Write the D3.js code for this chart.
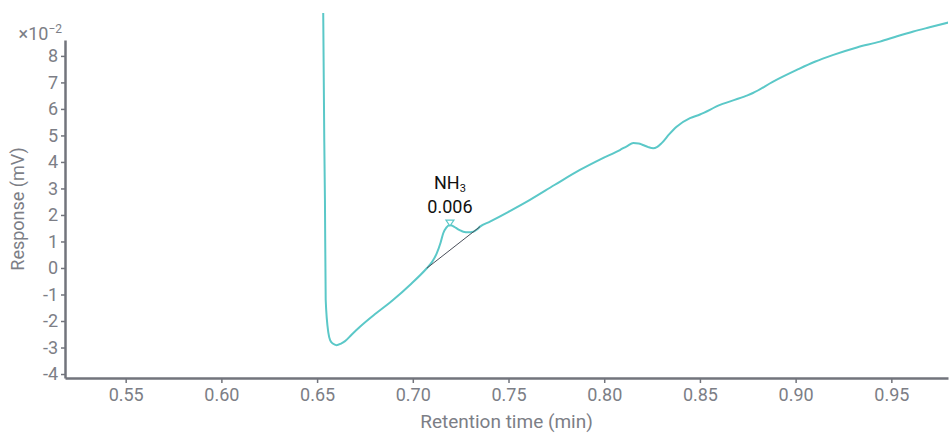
<!DOCTYPE html>
<html>
<head>
<meta charset="utf-8">
<script src="https://cdn.jsdelivr.net/npm/d3@7"></script>
<style>
  body { margin: 0; background: #fff; }
  svg text { font-family: Roboto, "Noto Sans", sans-serif; }
</style>
</head>
<body>
<div id="chart"></div>
<script>
// retention time (min) and response (x10^-2 mV)
const times = [0.6530, 0.6532, 0.6541, 0.6545, 0.6559, 0.6568, 0.6582, 0.6602, 0.6625, 0.6646,
  0.6680, 0.6724, 0.6810, 0.6898, 0.6985, 0.7073, 0.7100, 0.7125, 0.7145, 0.7159, 0.7175, 0.7194,
  0.7210, 0.7226, 0.7245, 0.7264, 0.7290, 0.7316, 0.7335, 0.7351, 0.7403, 0.7500, 0.7612,
  0.7740, 0.7873, 0.7980, 0.8082, 0.8120, 0.8152, 0.8180, 0.8202, 0.8230, 0.8256, 0.8275,
  0.8300, 0.8340, 0.8378, 0.8448, 0.8500, 0.8605, 0.8744, 0.8777, 0.8880, 0.9006, 0.9100,
  0.9197, 0.9320, 0.9441, 0.9530, 0.9615, 0.9700, 0.9798];
const response = [14.0, 9.62, 2.57, -1.21, -2.45, -2.72, -2.85, -2.91, -2.85, -2.76,
  -2.52, -2.22, -1.70, -1.20, -0.64, -0.01, 0.22, 0.55, 0.95, 1.31, 1.52, 1.62,
  1.58, 1.51, 1.43, 1.37, 1.35, 1.37, 1.45, 1.56, 1.75, 2.12, 2.57,
  3.13, 3.70, 4.10, 4.45, 4.60, 4.71, 4.70, 4.64, 4.56, 4.52, 4.56,
  4.71, 5.05, 5.33, 5.65, 5.79, 6.15, 6.50, 6.60, 7.02, 7.47, 7.78,
  8.04, 8.32, 8.54, 8.74, 8.92, 9.08, 9.26];

const xTicks = [0.55, 0.60, 0.65, 0.70, 0.75, 0.80, 0.85, 0.90, 0.95];
const yTicks = [-4, -3, -2, -1, 0, 1, 2, 3, 4, 5, 6, 7, 8];

// NH3 peak: apex, and the integration baseline ends
const peakName = "NH";
const peakSub = "3";
const peakArea = "0.006";
const peakApex = [0.7194, 1.62];
const baselineT = [0.7073, 0.7351];
const baselineV = [-0.01, 1.56];

const width = 950;
const height = 433;
const margin = { top: 40, right: 2, bottom: 55, left: 65 };

const axisColor = "#72747c";
const textColor = "#7c7e86";
const lineColor = "#5bc8c8";

const svg = d3.select("#chart")
  .append("svg")
  .attr("width", width)
  .attr("height", height);

const x = d3.scaleLinear()
  .domain([0.5183, 0.9796])
  .range([margin.left, width - margin.right]);

const y = d3.scaleLinear()
  .domain([-4.15, 8.6])
  .range([height - margin.bottom, margin.top]);

// trace is allowed to run above the axis top
svg.append("clipPath").attr("id", "clip")
  .append("rect")
  .attr("x", margin.left)
  .attr("y", 13)
  .attr("width", width - margin.left - margin.right)
  .attr("height", height - margin.bottom - 13);

const data = times.map((t, i) => ({ t, v: response[i] }));

const line = d3.line()
  .x((d) => x(d.t))
  .y((d) => y(d.v))
  .curve(d3.curveMonotoneX);

svg.append("path")
  .datum(data)
  .attr("clip-path", "url(#clip)")
  .attr("fill", "none")
  .attr("stroke", lineColor)
  .attr("stroke-width", 2)
  .attr("d", line);

// baseline under the peak
svg.append("line")
  .attr("x1", x(baselineT[0]))
  .attr("y1", y(baselineV[0]))
  .attr("x2", x(baselineT[1]))
  .attr("y2", y(baselineV[1]))
  .attr("stroke", "#4a4f5a")
  .attr("stroke-width", 1);

// apex marker
const px = x(peakApex[0]);
const py = y(peakApex[1]);
svg.append("path")
  .attr("d", `M${px - 4},${py - 5}L${px + 4},${py - 5}L${px},${py + 1}Z`)
  .attr("fill", "#fff")
  .attr("stroke", lineColor)
  .attr("stroke-width", 1.2);

const lab = svg.append("text")
  .attr("x", px)
  .attr("y", py - 36)
  .attr("text-anchor", "middle")
  .attr("fill", "#111")
  .attr("font-size", 18);
lab.append("tspan").text(peakName);
lab.append("tspan").attr("font-size", 11).attr("dy", 3).text(peakSub);

svg.append("text")
  .attr("x", px)
  .attr("y", py - 12)
  .attr("text-anchor", "middle")
  .attr("fill", "#111")
  .attr("font-size", 18)
  .text(peakArea);

// axes
const xAxis = svg.append("g")
  .attr("transform", `translate(0,${height - margin.bottom})`)
  .call(d3.axisBottom(x).tickValues(xTicks).tickFormat(d3.format(".2f")).tickSize(5).tickSizeOuter(0).tickPadding(5));

const yAxis = svg.append("g")
  .attr("transform", `translate(${margin.left},0)`)
  .call(d3.axisLeft(y).tickValues(yTicks).tickFormat((d) => String(d)).tickSize(4).tickSizeOuter(0).tickPadding(3));

[xAxis, yAxis].forEach((g) => {
  g.select(".domain").attr("stroke", axisColor).attr("stroke-width", 2.5);
  g.selectAll(".tick line").attr("stroke", axisColor).attr("stroke-width", 1.5);
  g.selectAll(".tick text")
    .attr("fill", textColor)
    .attr("font-size", 18)
    .attr("font-family", "Roboto, sans-serif");
});

// exponent label
const exp = svg.append("text")
  .attr("x", 62)
  .attr("y", 40)
  .attr("text-anchor", "end")
  .attr("fill", textColor)
  .attr("font-size", 18);
exp.append("tspan").text("×10");
exp.append("tspan").attr("font-size", 12).attr("dy", -7).text("−2");

// axis titles
svg.append("text")
  .attr("x", (margin.left + width - margin.right) / 2)
  .attr("y", 428)
  .attr("text-anchor", "middle")
  .attr("fill", textColor)
  .attr("font-size", 19)
  .text("Retention time (min)");

svg.append("text")
  .attr("transform", `translate(24,${(margin.top + height - margin.bottom) / 2}) rotate(-90)`)
  .attr("text-anchor", "middle")
  .attr("fill", textColor)
  .attr("font-size", 18)
  .text("Response (mV)");
</script>
</body>
</html>
